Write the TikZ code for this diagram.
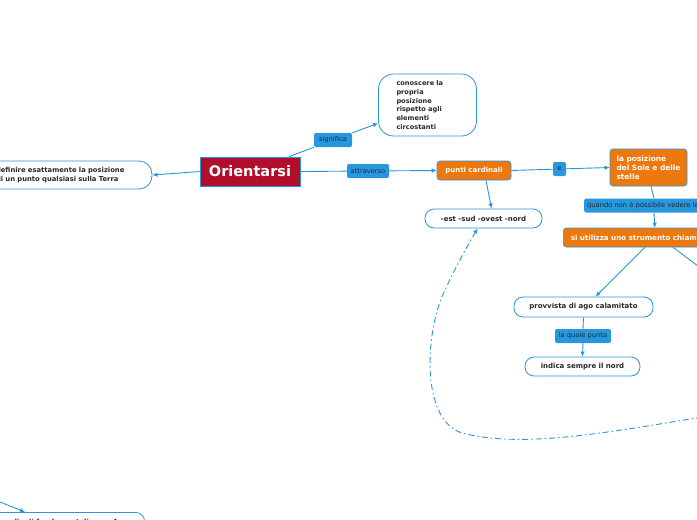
\documentclass[tikz,border=0pt]{standalone}
\usepackage{fontspec}
\setmainfont{DejaVu Sans}
\usetikzlibrary{arrows.meta,calc}
\definecolor{lblue}{RGB}{41,150,220}
\definecolor{lblfill}{RGB}{38,152,224}
\definecolor{orng}{RGB}{236,120,14}
\definecolor{redb}{RGB}{176,14,42}
\definecolor{txt}{RGB}{40,40,40}
\tikzset{
  conn/.style={draw=lblue, line width=0.9pt},
  arr/.style={conn, -{Latex[length=5pt,width=4.5pt]}},
  lbl/.style={fill=lblfill, rounded corners=2pt, text=txt, inner sep=1.5pt,
    font=\fontsize{6.7}{7.5}\selectfont, minimum height=14pt},
  pill/.style={draw=lblue, fill=white, line width=0.8pt, rounded corners=9pt, text=txt,
    font=\bfseries\fontsize{7}{8.5}\selectfont, inner sep=2pt},
  orbox/.style={draw=lblue, fill=orng, line width=0.6pt, rounded corners=3pt, text=white,
    font=\bfseries\fontsize{7}{9}\selectfont, inner sep=2pt},
}
\begin{document}
\begin{tikzpicture}[x=1pt,y=-1pt]
\useasboundingbox (0,0) rectangle (697,520);
\fill[white] (0,0) rectangle (697,520);

% main node
\node[draw=lblue, fill=redb, line width=0.6pt, text=white, font=\bfseries\fontsize{14.5}{16}\selectfont,
  minimum width=100pt, minimum height=29pt, inner sep=0pt] (o) at (250,171.5) {Orientarsi};

% left node
\node[pill, rounded corners=13pt, align=left, text width=132pt, inner xsep=24pt, minimum height=28pt,
  font=\bfseries\fontsize{6.8}{8.8}\selectfont]
  (def) at (62,175) {definire esattamente la posizione\\di un punto qualsiasi sulla Terra};

% conoscere
\node[pill, rounded corners=15pt, align=left, text width=62pt, inner xsep=18pt, minimum height=62pt,
  font=\bfseries\fontsize{6.6}{8.7}\selectfont]
  (con) at (427.5,105) {conoscere la\\propria\\posizione\\rispetto agli\\elementi\\circostanti};

% labels
\node[lbl, minimum width=38pt] (sig) at (333,140) {significa};
\node[lbl, minimum width=42pt] (att) at (368,171) {attraverso};
\node[lbl, minimum width=13pt] (e) at (559.5,169) {e};
\node[lbl, anchor=west, minimum width=130pt, align=left, text width=124pt] (qn) at (584,205.5) {quando non è possibile vedere le};
\node[lbl, minimum width=56pt] (lq) at (583,336) {la quale punta};

% orange boxes
\node[orbox, minimum width=74pt, minimum height=19pt] (pc) at (474,170.5) {punti cardinali};
\node[orbox, minimum width=77pt, minimum height=37pt, align=left,
  font=\bfseries\fontsize{7.4}{9}\selectfont]
  (pos) at (648.5,167.5) {la posizione\\del Sole e delle\\stelle};
\node[orbox, anchor=west, minimum height=19pt, inner xsep=7.5pt,
  font=\bfseries\fontsize{7.1}{9}\selectfont]
  (si) at (563,237.5) {si utilizza uno strumento chiamato bussola};

% white pills
\node[pill, minimum width=117pt, minimum height=19pt] (est) at (483.5,218.5) {-est -sud -ovest -nord};
\node[pill, minimum width=139pt, minimum height=20pt] (prov) at (583.5,307) {provvista di ago calamitato};
\node[pill, minimum width=115pt, minimum height=19pt] (ind) at (582.5,366.5) {indica sempre il nord};

% bottom-left node (clipped)
\node[pill, anchor=north east, minimum width=200pt, minimum height=20pt, inner ysep=6pt]
  (bl) at (145,512) {i punti cardinali fondamentali sono 4};

% free ends
\coordinate (off1) at (702,269);
\coordinate (c0) at (702,417);
\coordinate (c1) at (-5,500);

% connectors
\draw[arr] (o.west) -- (def.east);
\draw[conn] (o) -- (sig);
\draw[arr] (sig) -- (con);
\draw[conn] (o.east) -- (att);
\draw[arr] (att) -- (pc.west);
\draw[conn] (pc.east) -- (e);
\draw[arr] (e) -- (pos.west);
\draw[arr] ([xshift=12pt]pc.south) -- ([xshift=8pt]est.north);
\draw[conn] ([xshift=2.5pt]pos.south) -- (654,198);
\draw[arr] (654,213) -- ([xshift=92pt]si.north west);
\draw[arr] ([xshift=82pt]si.south west) -- ([xshift=12pt]prov.north);
\draw[conn] ([xshift=110pt]si.south west) -- (off1);
\draw[conn] (prov.south) -- (lq.north);
\draw[arr] (lq.south) -- (ind.north);
\draw[arr] (c1) -- ([xshift=-120pt]bl.north east);
\draw[arr, dash pattern=on 6pt off 3pt on 1.5pt off 3pt]
  (c0) .. controls (600,434) and (520,448) .. (462,433)
       .. controls (420,420) and (425,330) .. (445,290)
       .. controls (455,268) and (468,245) .. ([xshift=-6pt]est.south);
\end{tikzpicture}
\end{document}
